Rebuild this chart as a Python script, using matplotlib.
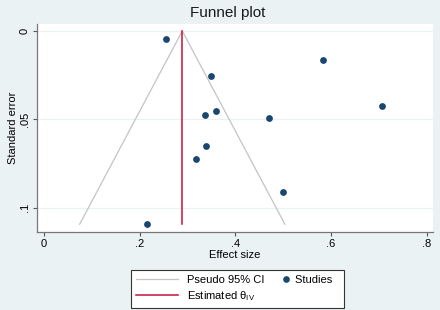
import matplotlib
matplotlib.use("Agg")
import matplotlib.pyplot as plt
from matplotlib.lines import Line2D
from matplotlib.legend_handler import HandlerLine2DCompound
import numpy as np

plt.rcParams['font.family'] = ['Liberation Sans', 'DejaVu Sans']
plt.rcParams['mathtext.fontset'] = 'custom'
plt.rcParams['mathtext.rm'] = 'Liberation Sans'
plt.rcParams['mathtext.it'] = 'Liberation Sans'

# Data
effect = [0.256, 0.348, 0.336, 0.360, 0.339, 0.317, 0.215, 0.584, 0.470, 0.706, 0.500]
se = [0.0045, 0.0255, 0.0476, 0.0453, 0.065, 0.0727, 0.1095, 0.0166, 0.0493, 0.0423, 0.0912]
theta = 0.289
se_max = 0.1094
xticks = [0, 0.2, 0.4, 0.6, 0.8]
xticklabels = ["0", ".2", ".4", ".6", ".8"]
yticks = [0, 0.05, 0.1]
yticklabels = ["0", ".05", ".1"]

bg = "#EAF2F3"
navy = "#1A476F"
red = "#C8103A"
gray = "#C4C4C4"
fs = 8

fig = plt.figure(figsize=(4.4, 3.1), dpi=100, facecolor=bg)
ax = fig.add_axes([37/440, 1-232/310, (433-37)/440, (232-24)/310])
ax.set_facecolor("white")

for y in yticks:
    ax.axhline(y, color=bg, lw=0.9, zorder=0)

z = 1.96
ax.plot([theta - z*se_max, theta, theta + z*se_max], [se_max, 0, se_max], color=gray, lw=0.9, zorder=1)
ax.plot([theta, theta], [0, se_max], color=red, lw=1.1, zorder=2)
ax.scatter(effect, se, s=24, color=navy, zorder=3, linewidths=0)

ax.set_xlim(-0.0146, 0.813)
ax.set_ylim(0.1138, -0.00396)
ax.set_xticks(xticks)
ax.set_xticklabels(xticklabels, fontsize=fs)
ax.set_yticks(yticks)
ax.set_yticklabels(yticklabels, fontsize=fs, rotation=90, va="center")
ax.tick_params(axis="both", colors="#555555", length=3, width=0.8, labelcolor="black", pad=2)

for s in ["top", "right"]:
    ax.spines[s].set_visible(False)
for s in ["left", "bottom"]:
    ax.spines[s].set_color("#777777")
    ax.spines[s].set_linewidth(0.9)

ax.set_xlabel("Effect size", fontsize=fs, labelpad=1)
ax.set_ylabel("Standard error", fontsize=fs, labelpad=1.5)
fig.text(0.517, 0.958, "Funnel plot", ha="center", va="center", fontsize=11, color="#1a1a1a")


class RightMarker(HandlerLine2DCompound):
    def get_xdata(self, legend, xdescent, ydescent, width, height, fontsize):
        xdata = np.linspace(-xdescent, -xdescent + width, 2)
        xdata_marker = np.array([-xdescent + width])
        return xdata, xdata_marker


handles = [
    Line2D([], [], color=gray, lw=0.9),
    Line2D([], [], color=red, lw=1.1),
    Line2D([], [], color=navy, marker="o", ls="none", markersize=4.8, markeredgewidth=0),
]
labels = ["Pseudo 95% CI", r"Estimated $\mathrm{\theta}_{\mathrm{IV}}$", "Studies  "]
leg = fig.legend(handles, labels, ncol=2, loc="upper left", bbox_to_anchor=(131/440, 1-270/310),
                 fontsize=fs, frameon=True, fancybox=False, edgecolor="#333333",
                 facecolor="white", framealpha=1, handlelength=3.78, columnspacing=-1.8,
                 labelspacing=0.35, borderpad=0.45, handletextpad=0.81, borderaxespad=0,
                 handler_map={handles[2]: RightMarker(numpoints=1)})
leg.get_frame().set_linewidth(0.8)

fig.savefig("out.png", dpi=100, facecolor=bg)
